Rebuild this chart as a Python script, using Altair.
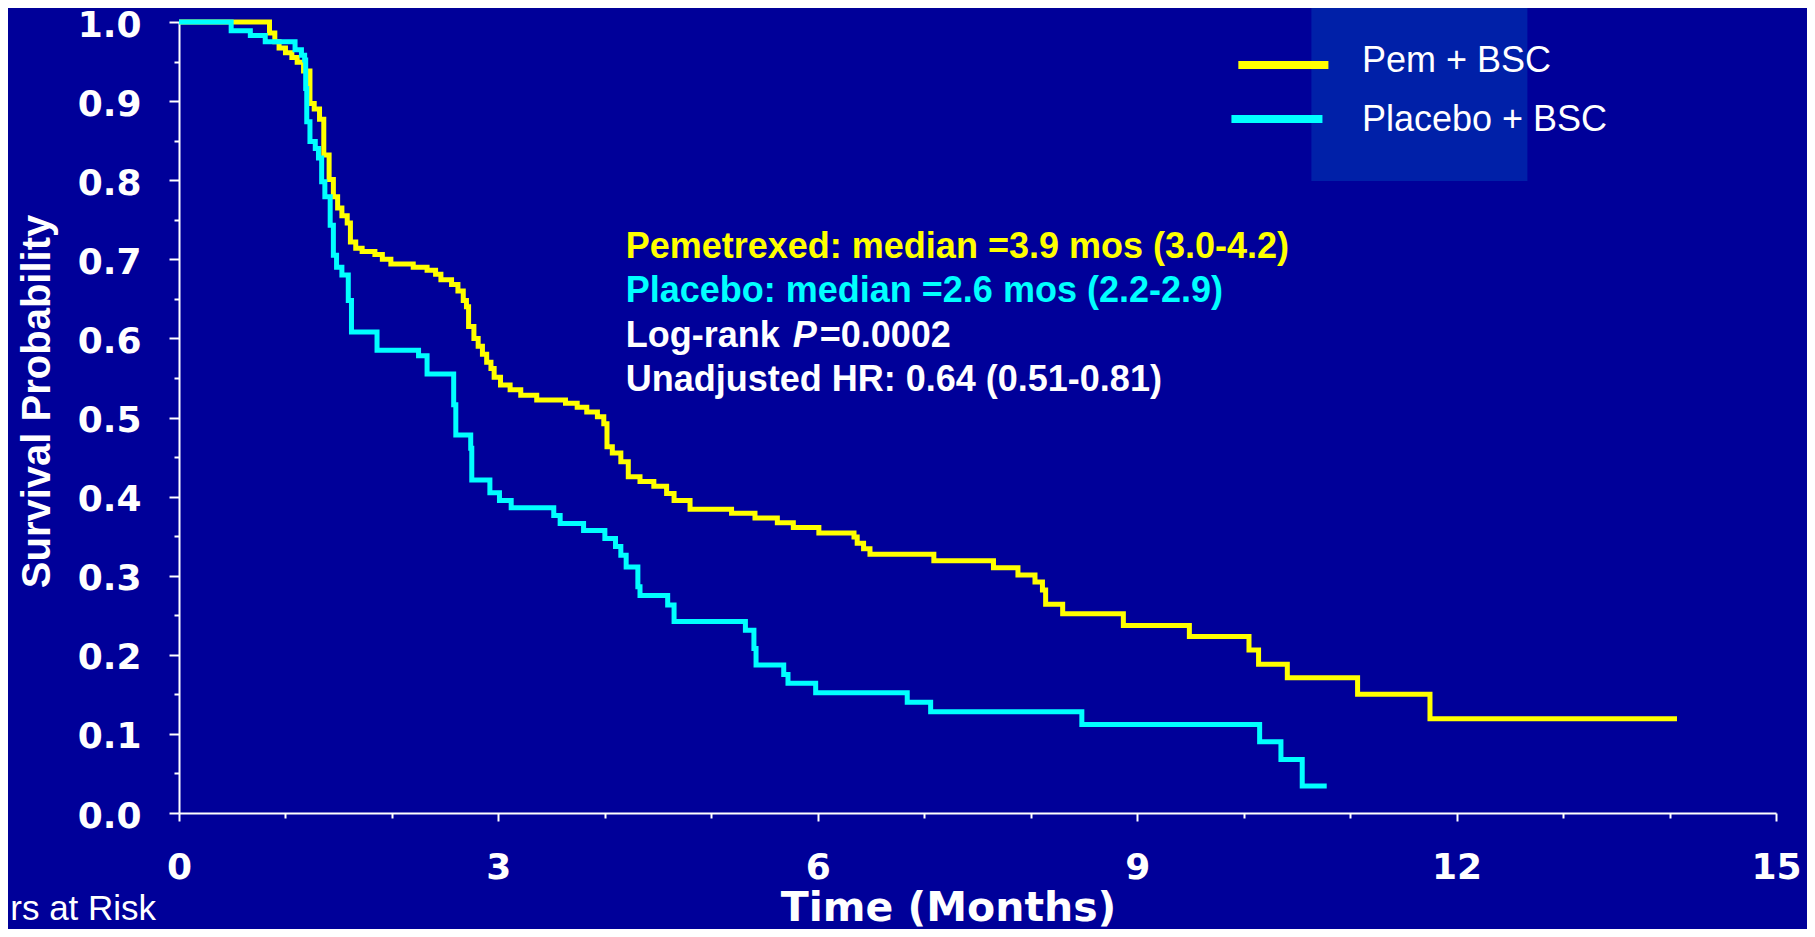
import altair as alt
import pandas as pd

# ---------------- data ----------------
arm_names = ["Pem + BSC", "Placebo + BSC"]
arm_colors = ["#FFFF00", "#00FFFF"]

pem_t = [0, 0.85, 0.90, 0.94, 1.00, 1.06, 1.11, 1.17, 1.23, 1.27, 1.32, 1.36, 1.41, 1.45,
         1.49, 1.53, 1.58, 1.61, 1.66, 1.72, 1.84, 1.91, 1.99, 2.20, 2.33, 2.41, 2.46, 2.56,
         2.62, 2.67, 2.70, 2.72, 2.77, 2.81, 2.85, 2.89, 2.93, 2.96, 3.02, 3.11, 3.21, 3.36,
         3.63, 3.74, 3.83, 3.93, 3.99, 4.02, 4.07, 4.15, 4.22, 4.33, 4.46, 4.58, 4.65, 4.80,
         5.19, 5.41, 5.62, 5.77, 6.01, 6.34, 6.37, 6.43, 6.49, 7.09, 7.65, 7.88, 8.04, 8.11,
         8.14, 8.30, 8.87, 9.49, 10.05, 10.14, 10.41, 11.07, 11.75, 14.07]
pem_s = [1.0, 0.986, 0.975, 0.967, 0.961, 0.955, 0.949, 0.938, 0.897, 0.890, 0.877, 0.832, 0.801, 0.779,
         0.765, 0.755, 0.746, 0.722, 0.714, 0.710, 0.706, 0.700, 0.694, 0.690, 0.686, 0.681, 0.674, 0.668,
         0.660, 0.648, 0.640, 0.615, 0.600, 0.590, 0.580, 0.570, 0.562, 0.551, 0.541, 0.535, 0.528, 0.522,
         0.518, 0.513, 0.507, 0.501, 0.492, 0.463, 0.455, 0.444, 0.425, 0.419, 0.413, 0.404, 0.395, 0.384,
         0.379, 0.373, 0.367, 0.361, 0.354, 0.349, 0.341, 0.334, 0.327, 0.319, 0.310, 0.301, 0.292, 0.282,
         0.264, 0.252, 0.237, 0.223, 0.206, 0.188, 0.171, 0.150, 0.119, 0.119]

pbo_t = [0, 0.49, 0.67, 0.81, 1.09, 1.15, 1.18, 1.19, 1.20, 1.23, 1.28, 1.31, 1.34, 1.37, 1.42,
         1.45, 1.48, 1.53, 1.59, 1.62, 1.86, 2.25, 2.33, 2.58, 2.60, 2.74, 2.75, 2.92, 3.01, 3.12,
         3.52, 3.58, 3.80, 4.00, 4.10, 4.15, 4.20, 4.31, 4.33, 4.59, 4.65, 5.32, 5.40, 5.42, 5.68,
         5.72, 5.98, 6.84, 7.06, 8.48, 10.15, 10.35, 10.55, 10.78]
pbo_s = [1.0, 0.989, 0.983, 0.975, 0.965, 0.958, 0.952, 0.916, 0.874, 0.849, 0.840, 0.828, 0.798, 0.779, 0.743,
         0.705, 0.690, 0.680, 0.648, 0.608, 0.585, 0.578, 0.555, 0.516, 0.478, 0.461, 0.421, 0.405, 0.395, 0.386,
         0.376, 0.366, 0.357, 0.347, 0.337, 0.326, 0.311, 0.286, 0.275, 0.263, 0.242, 0.231, 0.208, 0.187, 0.175,
         0.164, 0.152, 0.140, 0.128, 0.112, 0.090, 0.0675, 0.034, 0.034]

x_ticks = list(range(0, 16))
y_ticks = [round(i * 0.05, 2) for i in range(21)]

# legend (drawn inside the plot, in data units)
legend_box = [10.636, 12.665, 0.799, 1.023]
legend_line_x1 = [9.95, 9.885]
legend_line_x2 = [10.796, 10.74]
legend_line_y = [0.9456, 0.8773]
legend_label_x = [11.111, 11.111]
legend_label_y = [0.9371, 0.8625]

# annotation block
ann_text = ["Pemetrexed: median =3.9 mos (3.0-4.2)",
            "Placebo: median =2.6 mos (2.2-2.9)",
            "Log-rank",
            "Unadjusted HR: 0.64 (0.51-0.81)"]
ann_color = ["#FFFF00", "#00FFFF", "#FFFFFF", "#FFFFFF"]
ann_x = [4.196, 4.196, 4.196, 4.196]
ann_y = [0.7011, 0.6463, 0.5893, 0.5337]
p_text = ["P"]
p_rest = ["=0.0002"]
risk_text = ["rs at Risk"]
risk_x = [-1.585]
risk_y = [-0.1357]

BG = "#000099"
W = "#FFFFFF"

# ---------------- tables ----------------
curves = pd.DataFrame({
    "t": pem_t + pbo_t,
    "s": pem_s + pbo_s,
    "arm": [arm_names[0]] * len(pem_t) + [arm_names[1]] * len(pbo_t),
})
box_df = pd.DataFrame({"t": [legend_box[0]], "t2": [legend_box[1]],
                       "s": [legend_box[2]], "s2": [legend_box[3]]})
leg_df = pd.DataFrame({"arm": arm_names, "t": legend_line_x1, "t2": legend_line_x2,
                       "s": legend_line_y, "lt": legend_label_x, "ls": legend_label_y})
ann_df = pd.DataFrame({"text": ann_text, "c": ann_color, "t": ann_x, "s": ann_y})
p_df = pd.DataFrame({"text": p_text, "t": [ann_x[2]], "s": [ann_y[2]]})
rest_df = pd.DataFrame({"text": p_rest, "t": [ann_x[2]], "s": [ann_y[2]]})
risk_df = pd.DataFrame({"text": risk_text, "t": risk_x, "s": risk_y})

xscale = alt.Scale(domain=[0, 15], nice=False, zero=False)
yscale = alt.Scale(domain=[0, 1], nice=False, zero=False)

x_axis = alt.Axis(
    values=x_ticks,
    labelExpr="datum.value % 3 === 0 ? datum.label : ''",
    tickSize={"condition": {"test": "datum.value % 3 === 0", "value": 8}, "value": 5},
    labelFont="DejaVu Sans", labelFontWeight="bold", labelFontSize=36, labelColor=W,
    labelPadding=29, labelFlush=False, labelOverlap=False, labelBound=False,
    domainColor=W, domainWidth=2, tickColor=W, tickWidth=2, grid=False,
    title="Time (Months)", titleFont="DejaVu Sans", titleFontWeight="bold", titleFontSize=41,
    titleColor=W, titleX=769, titleY=107, titleBaseline="alphabetic", titleAlign="center",
)
y_axis = alt.Axis(
    values=y_ticks,
    labelExpr="round(datum.value * 100) % 10 === 0 ? format(datum.value, '.1f') : ''",
    tickSize={"condition": {"test": "round(datum.value * 100) % 10 === 0", "value": 10}, "value": 5},
    labelFont="DejaVu Sans", labelFontWeight="bold", labelFontSize=36, labelColor=W,
    labelPadding=28, labelFlush=False, labelOverlap=False, labelBound=False,
    labelBaseline="alphabetic", labelOffset=14,
    domainColor=W, domainWidth=2, tickColor=W, tickWidth=2, grid=False,
    title="Survival Probability", titleFont="Liberation Sans", titleFontWeight="bold",
    titleFontSize=40, titleColor=W, titleX=-130, titleY=379, titleAngle=270,
    titleBaseline="alphabetic", titleAlign="center",
)

X = alt.X("t:Q", scale=xscale, axis=x_axis, title="Time (Months)")
Y = alt.Y("s:Q", scale=yscale, axis=y_axis, title="Survival Probability")

box = alt.Chart(box_df).mark_rect(color="#0020A8").encode(x=X, x2="t2:Q", y=Y, y2="s2:Q")

lines = alt.Chart(curves).mark_line(interpolate="step-after", strokeWidth=5).encode(
    x=X, y=Y,
    color=alt.Color("arm:N", scale=alt.Scale(domain=arm_names, range=arm_colors), legend=None),
    detail="arm:N",
)

leg_lines = alt.Chart(leg_df).mark_rule(strokeWidth=8).encode(
    x=X, x2="t2:Q", y=Y,
    color=alt.Color("arm:N", scale=alt.Scale(domain=arm_names, range=arm_colors), legend=None),
)
leg_text = alt.Chart(leg_df).mark_text(
    font="Liberation Sans", fontSize=36, color=W, align="left", baseline="alphabetic"
).encode(
    x=alt.X("lt:Q", scale=xscale, axis=x_axis, title="Time (Months)"),
    y=alt.Y("ls:Q", scale=yscale, axis=y_axis, title="Survival Probability"),
    text="arm:N",
)

ann = alt.Chart(ann_df).mark_text(
    font="Liberation Sans", fontSize=36, fontWeight="bold", align="left", baseline="alphabetic"
).encode(x=X, y=Y, text="text:N", color=alt.Color("c:N", scale=None))

p_mark = alt.Chart(p_df).mark_text(
    font="Liberation Sans", fontSize=36, fontWeight="bold", fontStyle="italic",
    align="left", baseline="alphabetic", color=W, dx=167
).encode(x=X, y=Y, text="text:N")

rest_mark = alt.Chart(rest_df).mark_text(
    font="Liberation Sans", fontSize=36, fontWeight="bold",
    align="left", baseline="alphabetic", color=W, dx=194
).encode(x=X, y=Y, text="text:N")

risk = alt.Chart(risk_df).mark_text(
    font="Liberation Sans", fontSize=35, align="left", baseline="alphabetic", color=W
).encode(x=X, y=Y, text="text:N")

chart = alt.layer(box, lines, leg_lines, leg_text, ann, p_mark, rest_mark, risk).properties(
    width=1597, height=791,
    autosize=alt.AutoSizeParams(type="none"),
    padding={"left": 171, "top": 14, "right": 31, "bottom": 116},
    background=BG,
).configure_view(fill=BG, strokeWidth=0)

chart.save("out.html", embed_options={"renderer": "svg", "actions": False})
